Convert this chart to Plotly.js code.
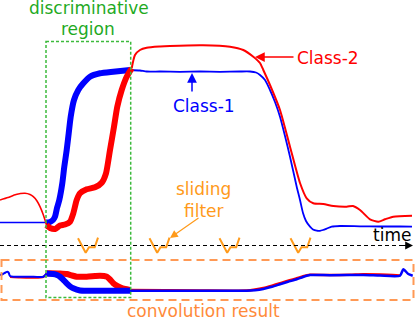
<!DOCTYPE html>
<html>
<head>
<meta charset="utf-8">
<script src="https://cdn.plot.ly/plotly-3.0.1.min.js"></script>
<style>html,body{margin:0;padding:0;background:#fff;}#chart{width:415px;height:318px;}</style>
</head>
<body>
<div id="chart"></div>
<script>
// ---- Data (diagram coordinates) ----
// Class-1 (blue), upper panel
const c1ThinLeftX = [0, 20, 46];
const c1ThinLeftY = [222.5, 222.5, 222.5];
const c1ThickX = [46, 50, 53, 55, 57, 59.3, 62.3, 64.3, 66.7, 68.7, 70.7, 74, 78.3, 83.3, 90, 100, 113.3, 130];
const c1ThickY = [222.5, 222, 220, 216.7, 208, 200, 183.3, 166.7, 150, 133.3, 116.7, 100, 90, 83.3, 76.7, 73.3, 71.7, 70];
const c1ThinRightX = [130, 140, 146.7, 160, 180, 200, 220, 240, 250, 256, 260, 265, 270, 275, 280, 285, 290, 296.7, 300, 303, 306, 310, 313, 316.7, 320, 323, 327, 331.7, 340, 360, 380, 400, 412];
const c1ThinRightY = [70, 70.5, 71.5, 71.5, 71.8, 71.5, 71.8, 71.5, 71.5, 72.5, 75, 80, 90, 102, 116.7, 136, 156.7, 186.7, 200, 213, 221, 226.7, 229.5, 230.7, 230.8, 230, 228.5, 226.7, 226, 226.3, 226.5, 226.5, 226.7];

// Class-2 (red), upper panel
const c2ThinLeftX = [0, 8, 16, 25, 30, 33.3, 37, 40, 43, 45, 46.5];
const c2ThinLeftY = [200, 197.5, 194.5, 193.3, 194.5, 196.7, 201, 206.7, 214, 220, 225];
const c2ThickX = [46.5, 48.3, 50, 55, 60, 65, 70, 73.3, 76.7, 80, 86.7, 95, 101.7, 106, 110, 114, 117.3, 121.7, 126.7, 131.7];
const c2ThickY = [225, 226.7, 228, 229, 225.5, 224.5, 221.7, 213.3, 200, 193.3, 189.3, 187.3, 182.7, 173.3, 150, 126.7, 106.7, 90, 76.7, 68.3];
const c2ThinRightX = [131.7, 135, 140, 146.7, 160, 170, 203, 230, 243.3, 253.3, 260, 263.3, 270, 280, 290, 300, 306.7, 313.3, 323.3, 333.3, 346.7, 353, 360, 370, 378.3, 385, 393.3, 412];
const c2ThinRightY = [68.3, 55, 50, 47.7, 46.5, 46, 45.3, 46.7, 50, 56.7, 63, 70, 85, 110, 146.7, 183, 198.3, 203.3, 204, 206, 206.7, 206, 210, 219.3, 221.7, 219.3, 216.7, 215.7];

// Convolution result, lower panel (blue)
const r1ThinLeftX = [0, 3, 5.5, 7.3, 8.5, 10, 13.3, 30, 43.3, 46.7];
const r1ThinLeftY = [275, 274, 272.5, 271.7, 272.5, 276, 276.7, 276.7, 276.7, 273.5];
const r1ThickX = [46.7, 53.3, 57, 60, 63, 66.7, 70, 73.3, 80, 90, 130];
const r1ThickY = [273.5, 274, 275, 276.7, 279.5, 283.3, 286.3, 288.3, 290.5, 290.7, 290.7];
const r1ThinRightX = [130, 200, 246.7, 255, 263.3, 272, 280, 288, 296.7, 303, 310, 330, 363.3, 380, 400, 403.3, 408.3, 412.7];
const r1ThinRightY = [290.7, 290.7, 290.7, 290.2, 289, 286.8, 284.3, 281.8, 279.3, 277, 275, 275.2, 275, 275.5, 275.7, 269.3, 274, 275.7];

// Convolution result, lower panel (red)
const r2ThinLeftX = [10, 20, 33.3, 43.3, 46.7];
const r2ThinLeftY = [277, 277.5, 277.7, 277, 273.3];
const r2ThickX = [46.7, 50, 60, 66.7, 72, 76.7, 86.7, 95, 100, 104, 106.7, 110, 113.3, 116.7, 120, 125, 130];
const r2ThickY = [273.3, 273.3, 273.5, 274, 275.5, 276.7, 276.7, 276, 275.7, 276, 276.7, 279.5, 283.3, 285.7, 287.3, 289, 290];
const r2ThinRightX = [130, 200, 246.7, 255, 263.3, 272, 280, 288, 296.7, 303, 310, 330, 350, 363.3, 380, 400];
const r2ThinRightY = [290, 290.5, 290.5, 289.5, 288, 285.7, 283.3, 280.7, 278.3, 276.3, 274.8, 275, 274.7, 274.2, 274.5, 275.5];

// Sliding filter glyph and its positions along time
const filterShapeX = [0, 7.7, 11, 16.7, 20];
const filterShapeY = [238.3, 252.7, 247.3, 247.3, 237.7];
const filterPositions = [78, 149.5, 219.5, 290.5];

// Labels
const labels = {
  disc1: "discriminative", disc2: "region", class1: "Class-1", class2: "Class-2",
  slide1: "sliding", slide2: "filter", time: "time", conv: "convolution result"
};

// ---- Styles ----
const RED = "#ff0000", BLUE = "#0000ff", GREEN_T = "#1faa1f", GREEN_R = "#3cba3c";
const ORANGE_T = "#ff9a1a", ORANGE_C = "#ff8a3a", ORANGE_R = "#ff9955";
const FONT = "DejaVu Sans, Verdana, sans-serif";

function line(x, y, color, width) {
  return {x: x, y: y, type: "scatter", mode: "lines", hoverinfo: "skip",
          line: {color: color, width: width, shape: "spline", smoothing: 0.6}};
}

const traces = [
  line(r2ThinLeftX, r2ThinLeftY, RED, 2),
  line(r2ThickX, r2ThickY, RED, 6),
  line(r2ThinRightX, r2ThinRightY, RED, 2.5),
  line(r1ThinLeftX, r1ThinLeftY, BLUE, 2),
  line(r1ThickX, r1ThickY, BLUE, 6),
  line(r1ThinRightX, r1ThinRightY, BLUE, 2.5),
  line(c1ThinLeftX, c1ThinLeftY, BLUE, 1.6),
  line(c1ThickX, c1ThickY, BLUE, 6),
  line(c1ThinRightX, c1ThinRightY, BLUE, 1.8),
  line(c2ThinLeftX, c2ThinLeftY, RED, 1.6),
  line(c2ThickX, c2ThickY, RED, 6),
  line(c2ThinRightX, c2ThinRightY, RED, 2)
];
filterPositions.forEach(function (p) {
  traces.push({x: filterShapeX.map(function (v) { return v + p; }), y: filterShapeY,
               type: "scatter", mode: "lines", hoverinfo: "skip",
               line: {color: ORANGE_T, width: 2}});
});

function txt(text, x, y, color) {
  return {text: text, x: x, y: y, xref: "x", yref: "y", showarrow: false,
          xanchor: "center", yanchor: "middle", font: {family: FONT, size: 17, color: color}};
}
function arrow(x, y, ax, ay, color, w) {
  return {text: "", x: x, y: y, ax: ax, ay: ay, xref: "x", yref: "y", axref: "x", ayref: "y",
          showarrow: true, arrowhead: 2, arrowsize: 1.3, arrowwidth: w, arrowcolor: color};
}

const layout = {
  width: 415, height: 318,
  margin: {l: 0, r: 0, t: 0, b: 0},
  paper_bgcolor: "#ffffff", plot_bgcolor: "#ffffff",
  showlegend: false,
  xaxis: {range: [0, 415], visible: false, fixedrange: true},
  yaxis: {range: [318, 0], visible: false, fixedrange: true},
  shapes: [
    {type: "line", xref: "x", yref: "y", x0: 0, x1: 404, y0: 245.5, y1: 245.5,
     line: {color: "#000000", width: 1, dash: "4px,3px"}},
    {type: "rect", xref: "x", yref: "y", x0: 1.5, x1: 413.5, y0: 260, y1: 300,
     line: {color: ORANGE_R, width: 2, dash: "8px,5px"}, layer: "above"},
    {type: "rect", xref: "x", yref: "y", x0: 46, x1: 130.7, y0: 41.5, y1: 297.5,
     line: {color: GREEN_R, width: 1.5, dash: "3px,2px"}, layer: "above"}
  ],
  annotations: [
    txt(labels.disc1, 88.5, 8, GREEN_T),
    txt(labels.disc2, 87.5, 29, GREEN_T),
    txt(labels.class2, 328, 58, RED),
    txt(labels.class1, 204, 105.5, BLUE),
    txt(labels.slide1, 203.5, 189, ORANGE_T),
    txt(labels.slide2, 203.5, 211, ORANGE_T),
    txt(labels.time, 392, 234.5, "#000000"),
    txt(labels.conv, 203.5, 310.5, ORANGE_C),
    arrow(255, 57, 295, 57, RED, 1.5),
    arrow(192, 73, 192, 93, BLUE, 1.5),
    arrow(170, 238, 200, 217, ORANGE_T, 1.2),
    arrow(413, 245.5, 398, 245.5, "#000000", 1.2)
  ]
};

Plotly.newPlot("chart", traces, layout, {staticPlot: true, displayModeBar: false});
</script>
</body>
</html>
